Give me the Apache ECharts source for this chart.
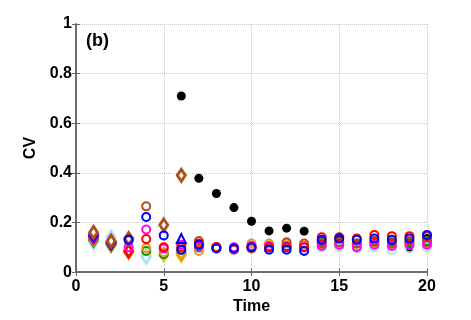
<!DOCTYPE html>
<html>
<head>
<meta charset="utf-8">
<script src="https://cdn.jsdelivr.net/npm/echarts@6/dist/echarts.min.js"></script>
<style>
    html, body { margin: 0; padding: 0; background: #fff; }
    #chart { width: 471px; height: 320px; }
</style>
</head>
<body>
<div id="chart"></div>
<script>
(function () {
    'use strict';

    var times = [1, 2, 3, 4, 5, 6, 7, 8, 9, 10, 11, 12, 13, 14, 15, 16, 17, 18, 19, 20];
    var xTicks = [0, 5, 10, 15, 20];
    var yTicks = [0, 0.2, 0.4, 0.6, 0.8, 1];

    // filled black circles
    var black = [null, null, null, null, null, 0.71, 0.378, 0.317, 0.26, 0.205, 0.166, 0.177, 0.165, 0.125, 0.13, 0.115, 0.12, 0.12, 0.10, 0.135];

    // diamond markers
    var yellowD = [0.125, 0.11, null, 0.065, 0.07, 0.068, null, null, null, null, null, null, null, null, null, null, null, null, null, null];
    var lightblueD = [0.12, 0.14, null, 0.06, null, 0.08, null, null, null, null, null, null, null, null, null, null, null, null, null, null];
    var greenD = [0.13, 0.11, null, null, null, null, null, null, null, null, null, null, null, null, null, null, null, null, null, null];
    var orangeD = [0.135, 0.115, 0.08, null, null, 0.075, null, null, null, null, null, null, null, null, null, null, null, null, null, null];
    var redD = [0.14, 0.118, 0.085, null, null, null, null, null, null, null, null, null, null, null, null, null, null, null, null, null];
    var magentaD = [0.145, 0.12, null, null, null, null, null, null, null, null, null, null, null, null, null, null, null, null, null, null];
    var blueD = [0.15, 0.12, null, null, null, null, null, null, null, null, null, null, null, null, null, null, null, null, null, null];
    var brownD = [0.16, 0.125, 0.135, null, 0.19, 0.39, null, null, null, null, null, null, null, null, null, null, null, null, null, null];

    // open circle markers
    var lightblueO = [null, null, null, null, null, null, 0.095, 0.095, 0.09, 0.095, 0.095, 0.095, 0.09, 0.10, 0.10, 0.095, 0.10, 0.088, 0.095, 0.10];
    var greenO = [null, null, 0.128, 0.085, 0.072, 0.09, 0.10, 0.10, 0.095, 0.10, 0.10, 0.105, 0.105, 0.12, 0.12, 0.115, 0.125, 0.12, 0.12, 0.125];
    var orangeO = [null, null, null, 0.097, 0.08, null, 0.085, 0.095, 0.095, 0.115, 0.115, 0.115, 0.105, 0.11, 0.11, 0.105, 0.115, 0.11, 0.11, 0.115];
    var redO = [null, null, null, 0.133, 0.10, 0.10, 0.115, 0.10, 0.095, 0.10, 0.10, 0.10, 0.10, 0.14, 0.14, 0.135, 0.15, 0.145, 0.145, 0.145];
    var magentaO = [null, null, 0.10, 0.172, 0.095, 0.11, 0.105, 0.10, 0.10, 0.105, 0.105, 0.10, 0.10, 0.105, 0.11, 0.10, 0.11, 0.105, 0.11, 0.11];
    var blueO = [null, null, 0.13, 0.222, 0.148, 0.09, 0.11, 0.095, 0.095, 0.10, 0.09, 0.09, 0.085, 0.13, 0.135, 0.13, 0.135, 0.13, 0.135, 0.15];
    var blueT = [null, null, null, null, null, 0.135, null, null, null, null, null, null, null, null, null, null, null, null, null, null];
    var brownO = [null, null, null, 0.265, null, null, 0.125, 0.10, 0.09, 0.095, 0.10, 0.12, 0.115, 0.115, 0.12, 0.115, 0.125, 0.115, 0.125, 0.12];

    function pts(arr) {
        var out = [];
        for (var i = 0; i < times.length; i++) {
            if (arr[i] !== null) out.push([times[i], arr[i]]);
        }
        return out;
    }

    function diamond(arr, color) {
        return {
            type: 'scatter', data: pts(arr), symbol: 'diamond', symbolSize: [8, 12],
            itemStyle: { color: '#fff', borderColor: color, borderWidth: 3, opacity: 1 }
        };
    }

    function ring(arr, color) {
        return {
            type: 'scatter', data: pts(arr), symbol: 'circle', symbolSize: 8,
            itemStyle: { color: 'rgba(255,255,255,0)', borderColor: color, borderWidth: 2, opacity: 1 }
        };
    }

    var c = {
        yellow: '#e6d200', lightblue: '#a6e3f7', green: '#1a8a1a', orange: '#e8961e',
        red: '#ff0000', magenta: '#ff00ff', blue: '#0000ff', brown: '#b0501a'
    };

    var series = [
        diamond(yellowD, c.yellow), diamond(lightblueD, c.lightblue), diamond(greenD, c.green),
        diamond(orangeD, c.orange), diamond(redD, c.red), diamond(magentaD, c.magenta),
        diamond(blueD, c.blue), diamond(brownD, c.brown),
        {
            type: 'scatter', data: pts(black), symbol: 'circle', symbolSize: 9,
            itemStyle: { color: '#000', opacity: 1 }
        },
        ring(lightblueO, c.lightblue), ring(greenO, c.green), ring(orangeO, c.orange),
        ring(brownO, c.brown), ring(magentaO, c.magenta), ring(redO, c.red), ring(blueO, c.blue),
        {
            type: 'scatter', data: pts(blueT), symbol: 'triangle', symbolSize: 9,
            itemStyle: { color: 'rgba(255,255,255,0)', borderColor: c.blue, borderWidth: 2, opacity: 1 }
        }
    ];

    var font = 'Liberation Sans, Arial, sans-serif';
    var lbl = { fontFamily: font, fontWeight: 'bold', fontSize: 16, color: '#000' };
    var line = { show: true, lineStyle: { color: '#666', width: 1.5 } };
    var tick = { show: true, inside: true, length: 4, lineStyle: { color: '#666' } };
    var grid = { show: true, lineStyle: { color: '#c8c8c8', type: 'dotted' } };

    var myChart = echarts.init(document.getElementById('chart'));
    myChart.setOption({
        animation: false,
        grid: { left: 76, right: 44, top: 24, bottom: 47 },
        xAxis: [{
            type: 'value', min: xTicks[0], max: xTicks[xTicks.length - 1], interval: 5,
            name: 'Time', nameLocation: 'middle', nameGap: 22,
            nameTextStyle: lbl, axisLabel: Object.assign({ margin: 6 }, lbl),
            axisLine: line, axisTick: tick, splitLine: grid
        }, {
            type: 'value', position: 'top', min: xTicks[0], max: xTicks[xTicks.length - 1], interval: 5,
            axisLabel: { show: false }, axisLine: line, axisTick: tick, splitLine: { show: false }
        }],
        yAxis: [{
            type: 'value', min: yTicks[0], max: yTicks[yTicks.length - 1], interval: 0.2,
            name: 'CV', nameLocation: 'middle', nameGap: 34,
            nameTextStyle: lbl, axisLabel: Object.assign({ margin: 4 }, lbl),
            axisLine: line, axisTick: tick, splitLine: grid
        }, {
            type: 'value', position: 'right', min: yTicks[0], max: yTicks[yTicks.length - 1], interval: 0.2,
            axisLabel: { show: false }, axisLine: line, axisTick: tick, splitLine: { show: false }
        }],
        graphic: [{
            type: 'text', left: 86, top: 32,
            style: { text: '(b)', font: 'bold 18px ' + font, fill: '#000' }
        }],
        series: series
    });
}());
</script>
</body>
</html>
